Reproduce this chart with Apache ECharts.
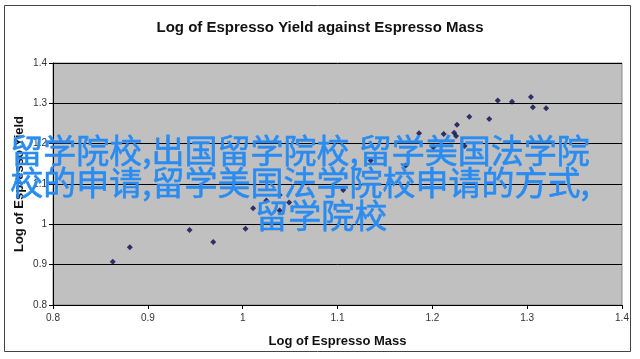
<!DOCTYPE html>
<html>
<head>
<meta charset="utf-8">
<script src="https://cdn.jsdelivr.net/npm/echarts@6/dist/echarts.min.js"></script>
<style>
html,body{margin:0;padding:0;background:#fff;}
#c{width:640px;height:359px;}
</style>
</head>
<body>
<div id="c"></div>
<script>
var chartTitle = "Log of Espresso Yield against Espresso Mass";
var xTitle = "Log of Espresso Mass";
var yTitle = "Log of Espresso Yield";
var massLog = [0.863, 0.881, 0.944, 0.969, 1.003, 1.011, 1.025, 1.039, 1.049, 1.039, 1.106, 1.135, 1.172, 1.201, 1.186, 1.212, 1.223, 1.225, 1.234, 1.226, 1.239, 1.260, 1.269, 1.284, 1.304, 1.306, 1.320];
var yieldLog = [0.907, 0.943, 0.986, 0.956, 0.989, 1.040, 1.059, 1.073, 1.054, 1.034, 1.085, 1.158, 1.146, 1.191, 1.226, 1.224, 1.227, 1.219, 1.194, 1.247, 1.267, 1.261, 1.307, 1.304, 1.316, 1.290, 1.288];
var overlayLines = ["留学院校,出国留学院校,留学美国法学院", "校的申请,留学美国法学院校申请的方式,", "留学院校"];

var points = massLog.map(function (x, i) { return [x, yieldLog[i]]; });

var chart = echarts.init(document.getElementById('c'), null, {renderer: 'canvas'});
var labelFont = {fontFamily: 'Liberation Sans, Arial, sans-serif', fontSize: 10, color: '#333'};
chart.setOption({
  animation: false,
  backgroundColor: '#ffffff',
  title: {
    text: chartTitle, left: 'center', top: 15,
    textStyle: {fontFamily: 'Liberation Sans, Arial, sans-serif', fontWeight: 'bold', fontSize: 15, color: '#111'}
  },
  grid: {left: 53, right: 18, top: 63, bottom: 54, containLabel: false, outerBoundsMode: 'none', show: true, backgroundColor: '#c0c0c0', borderColor: '#888', borderWidth: 1},
  xAxis: {
    type: 'value', min: 0.8, max: 1.4, interval: 0.1,
    name: xTitle, nameLocation: 'middle', nameGap: 30,
    nameTextStyle: {fontFamily: 'Liberation Sans, Arial, sans-serif', fontWeight: 'bold', fontSize: 13, color: '#111'},
    axisLine: {show: true, onZero: false, lineStyle: {color: '#000', width: 1}},
    axisTick: {show: true, length: 4, lineStyle: {color: '#000'}},
    axisLabel: Object.assign({margin: 8, formatter: function (v) { return String(Math.round(v * 10) / 10); }}, labelFont),
    splitLine: {show: false}
  },
  yAxis: {
    type: 'value', min: 0.8, max: 1.4, interval: 0.1,
    name: yTitle, nameLocation: 'middle', nameGap: 27, nameRotate: 90, nameMoveOverlap: false,
    nameTextStyle: {fontFamily: 'Liberation Sans, Arial, sans-serif', fontWeight: 'bold', fontSize: 13, color: '#111'},
    axisLine: {show: true, onZero: false, lineStyle: {color: '#000', width: 1}},
    axisTick: {show: true, length: 4, lineStyle: {color: '#000'}},
    axisLabel: Object.assign({margin: 6, formatter: function (v) { return String(Math.round(v * 10) / 10); }}, labelFont),
    splitLine: {show: true, lineStyle: {color: '#000', width: 1}}
  },
  series: [{
    type: 'scatter', data: points, symbol: 'diamond', symbolSize: 6,
    itemStyle: {color: '#0a0a50'}
  }],
  graphic: [
    {type: 'rect', shape: {x: 4.5, y: 5.5, width: 626, height: 346}, style: {fill: 'none', stroke: '#444', lineWidth: 1}, z: 100},
    {type: 'text', left: 10, top: 134, z: 200, style: {text: overlayLines[0], font: '33px "Noto Sans CJK SC"', fill: '#2a8cf0', stroke: '#2a8cf0', lineWidth: 0.6}},
    {type: 'text', left: 10, top: 166, z: 200, style: {text: overlayLines[1], font: '33px "Noto Sans CJK SC"', fill: '#2a8cf0', stroke: '#2a8cf0', lineWidth: 0.6}},
    {type: 'text', left: 255, top: 199, z: 200, style: {text: overlayLines[2], font: '33px "Noto Sans CJK SC"', fill: '#2a8cf0', stroke: '#2a8cf0', lineWidth: 0.6}}
  ]
});
</script>
</body>
</html>
